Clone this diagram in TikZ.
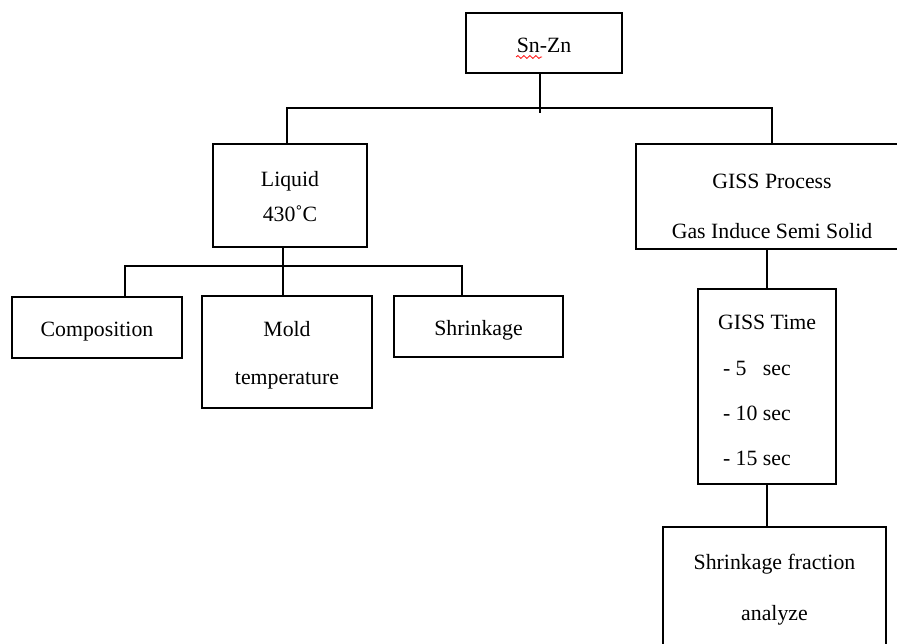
\documentclass[tikz,border=0pt]{standalone}
\usepackage{fontspec}
\setmainfont{Liberation Serif}
\usetikzlibrary{positioning,decorations.pathmorphing}

\newcommand{\boxstrut}[1]{\rule{0pt}{#1}}

\tikzset{
  box/.style={draw, line width=0.75pt, inner sep=0pt, align=center,
    font=\fontsize{10.9}{13}\selectfont},
  link/.style={line width=0.75pt}
}

\begin{document}
\begin{tikzpicture}[x=0.5pt, y=-0.5pt]
\useasboundingbox (0,0) rectangle (897,643);
\clip (0,0) rectangle (897,643);

% Top level
\node[box, minimum width=78pt, minimum height=30pt] (snzn) at (544,43) {\boxstrut{9.5pt}Sn-Zn};
\draw[red, line width=0.4pt, decorate, decoration={snake, amplitude=0.7pt, segment length=3pt}]
  (516,57) -- (542,57);

% Second level
\node[box, minimum width=77pt, minimum height=51.5pt] (liquid) at (290,195.5)
  {\boxstrut{9pt}Liquid\\[4.5pt]430˚C};
\node[box, minimum width=136pt, minimum height=52.5pt] (giss) at (772,196.5)
  {\boxstrut{17.2pt}GISS Process\\[12pt]Gas Induce Semi Solid};

% Liquid branch
\node[box, minimum width=85pt, minimum height=30.5pt] (comp) at (97,327.5)
  {\boxstrut{11.2pt}Composition};
\node[box, minimum width=85pt, minimum height=56pt] (mold) at (287,352)
  {\boxstrut{11.2pt}Mold\\[11pt]temperature};
\node[box, minimum width=84.5pt, minimum height=30.5pt] (shrink) at (478.5,326.5)
  {\boxstrut{11.2pt}Shrinkage};

% GISS branch
\node[box, align=left, minimum width=69pt, minimum height=97.5pt] (time) at (767,386.5)
  {\boxstrut{10.7pt}GISS Time\\[10pt]\hspace*{2.5pt}- 5\phantom{0} sec\\[9.5pt]\hspace*{2.5pt}- 10 sec\\[9.5pt]\hspace*{2.5pt}- 15 sec};
\node[box, minimum width=111.5pt, minimum height=60pt] (frac) at (774.5,587)
  {\boxstrut{10.2pt}Shrinkage fraction\\[12.5pt]analyze};

% Connectors
\coordinate (top) at (540,108);
\coordinate (left) at (125,266);
\coordinate (right) at (462,266);
\draw[link] (top |- snzn.south) -- ([yshift=-2.5pt]top);
\draw[link] ([xshift=-1.5pt]liquid.north) |- (top) -| (giss.north);
\draw[link] ([xshift=-3.5pt]liquid.south) -- ([xshift=-3.5pt]liquid.south |- mold.north);
\draw[link] (left |- comp.north) -- (left) -- (right) -- (right |- shrink.north);
\draw[link] (giss.south -| time.north) -- (time.north);
\draw[link] (time.south) -- (time.south |- frac.north);
\end{tikzpicture}
\end{document}
